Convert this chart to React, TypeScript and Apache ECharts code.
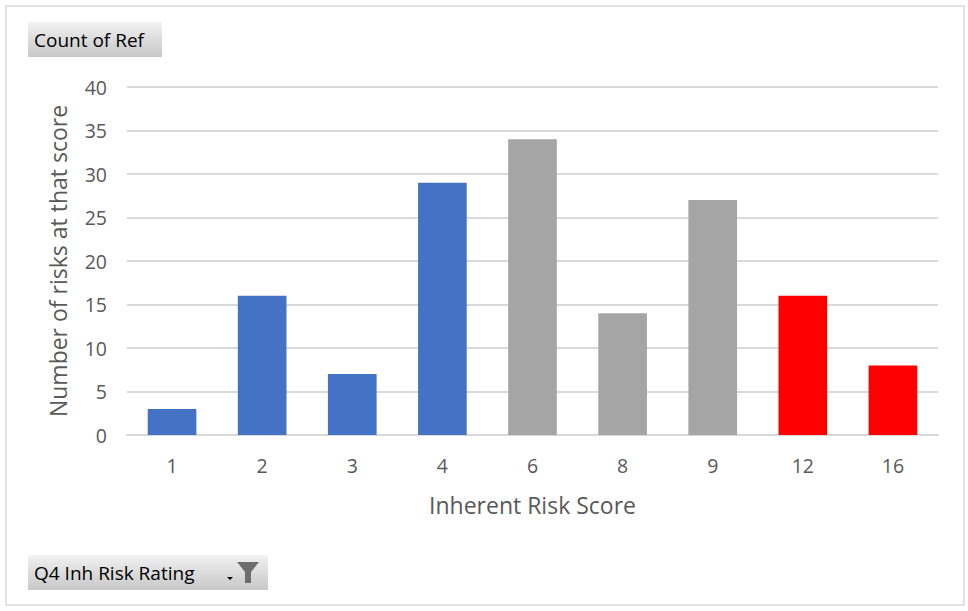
import React, { useEffect, useRef } from "react";
import * as echarts from "echarts";

const scores = ["1", "2", "3", "4", "6", "8", "9", "12", "16"];
const riskCounts = [3, 16, 7, 29, 34, 14, 27, 16, 8];
const ratingColors = ["#4472C4", "#4472C4", "#4472C4", "#4472C4", "#A5A5A5", "#A5A5A5", "#A5A5A5", "#FF0000", "#FF0000"];

const FONT = "'Liberation Sans Narrow', 'Open Sans', 'Noto Sans', sans-serif";

const buttonFill = new echarts.graphic.LinearGradient(0, 0, 0, 1, [
  { offset: 0, color: "#f2f2f2" },
  { offset: 0.5, color: "#dcdcdc" },
  { offset: 1, color: "#c8c8c8" },
]);

export default function App() {
  const ref = useRef<HTMLDivElement>(null);

  useEffect(() => {
    if (!ref.current) return;
    const chart = echarts.init(ref.current, null, { renderer: "svg" });
    chart.setOption({
      animation: false,
      backgroundColor: "#ffffff",
      grid: { left: 127, right: 30, top: 87, bottom: 176 },
      xAxis: {
        type: "category",
        data: scores,
        name: "Inherent Risk Score",
        nameLocation: "middle",
        nameGap: 58,
        nameTextStyle: { fontFamily: FONT, fontSize: 23, color: "#595959" },
        axisLine: { show: true, lineStyle: { color: "#d9d9d9", width: 2 } },
        axisTick: { show: false },
        axisLabel: { fontFamily: FONT, fontSize: 19.5, color: "#595959", margin: 20 },
      },
      yAxis: {
        type: "value",
        min: 0,
        max: 40,
        interval: 5,
        name: "Number of risks at that score",
        nameLocation: "middle",
        nameGap: 58,
        nameTextStyle: { fontFamily: FONT, fontSize: 23, color: "#595959" },
        axisLine: { show: false },
        axisTick: { show: false },
        axisLabel: { fontFamily: FONT, fontSize: 19.5, color: "#595959", margin: 20 },
        splitLine: { lineStyle: { color: "#d9d9d9", width: 2 } },
      },
      series: [
        {
          type: "bar",
          data: riskCounts.map((v, i) => ({ value: v, itemStyle: { color: ratingColors[i] } })),
          barWidth: "54%",
        },
      ],
      graphic: [
        {
          type: "rect",
          shape: { x: 6, y: 6, width: 958, height: 599 },
          style: { fill: "none", stroke: "#d9d9d9", lineWidth: 1.5 },
          silent: true,
        },
        {
          type: "rect",
          shape: { x: 28, y: 22, width: 134, height: 35 },
          style: { fill: buttonFill },
        },
        {
          type: "text",
          x: 34,
          y: 39.5,
          style: { text: "Count of Ref", fontFamily: FONT, fontSize: 19, fill: "#000000", verticalAlign: "middle" },
        },
        {
          type: "rect",
          shape: { x: 28, y: 555, width: 240, height: 35 },
          style: { fill: buttonFill },
        },
        {
          type: "text",
          x: 34,
          y: 572.5,
          style: { text: "Q4 Inh Risk Rating", fontFamily: FONT, fontSize: 19, fill: "#000000", verticalAlign: "middle" },
        },
        {
          type: "polygon",
          shape: { points: [[227, 577], [233, 577], [230, 580]] },
          style: { fill: "#000000" },
        },
        {
          type: "polygon",
          shape: {
            points: [
              [237, 562], [259, 562], [251, 572], [251, 583], [245, 583], [245, 572],
            ],
          },
          style: { fill: "#6e6e6e" },
        },
      ],
    });
    return () => chart.dispose();
  }, []);

  return <div ref={ref} style={{ position: "fixed", left: 0, top: 0, width: 968, height: 611 }} />;
}
